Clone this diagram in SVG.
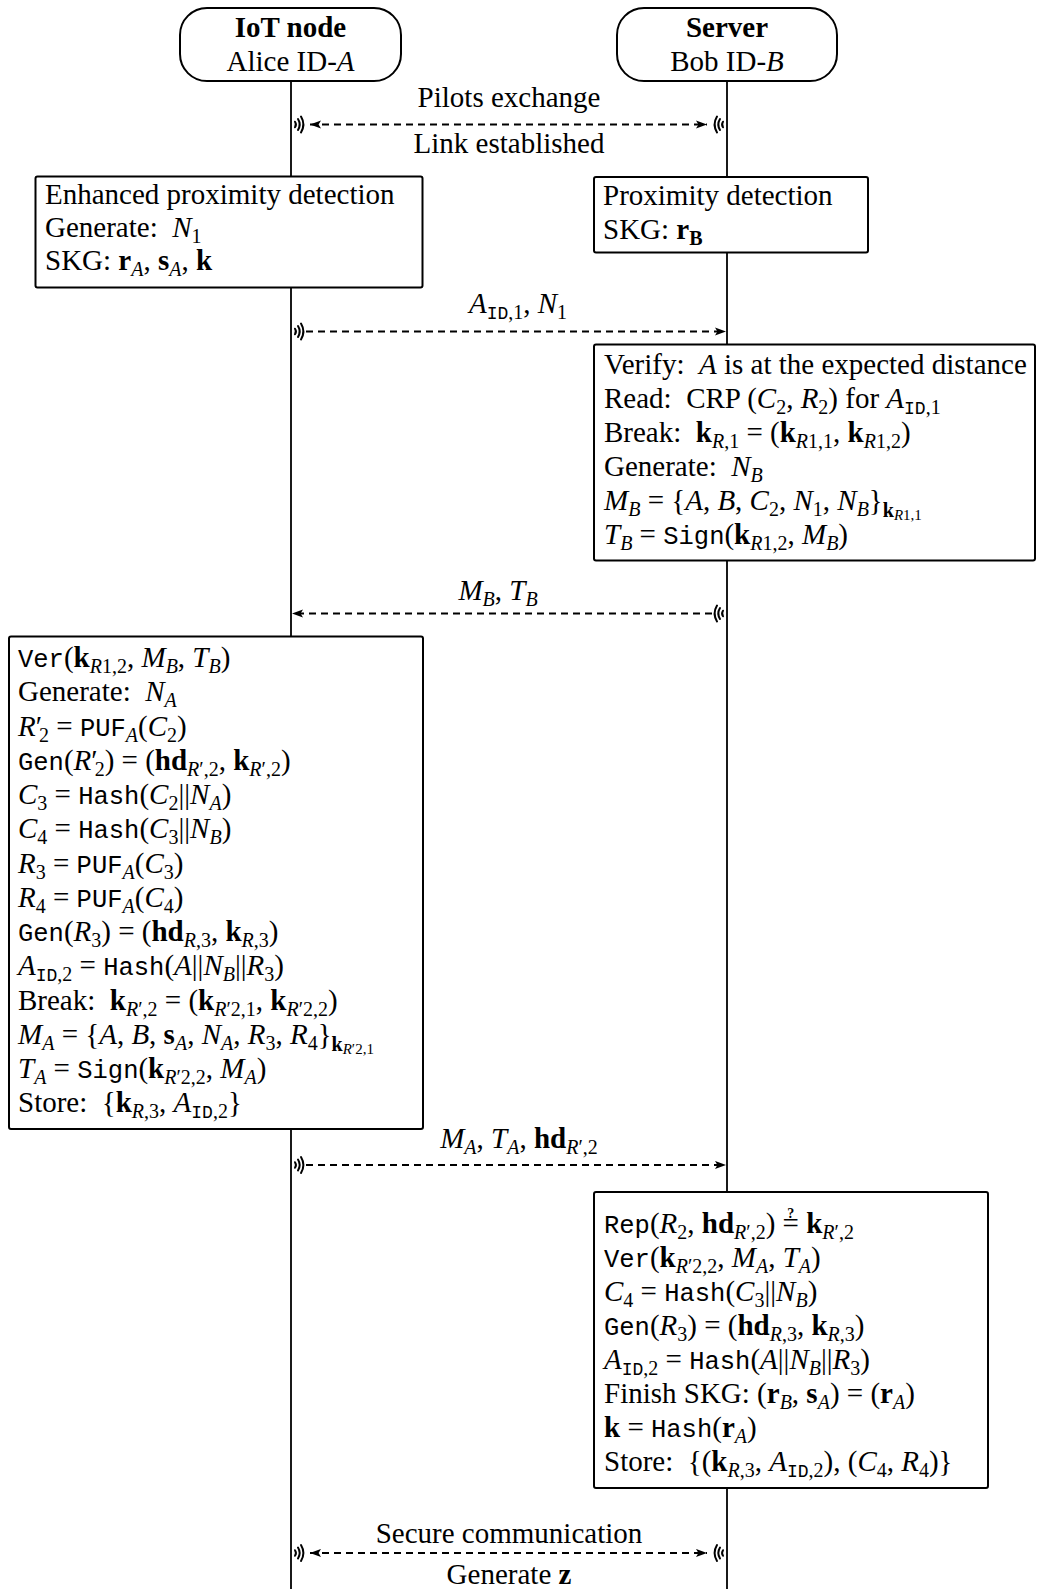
<svg xmlns="http://www.w3.org/2000/svg" width="1038" height="1589" viewBox="0 0 1038 1589" xml:space="preserve">
<style>
.t{font-family:"Liberation Serif","Times New Roman",serif;font-size:29px;fill:#000;white-space:pre}
.c{text-anchor:middle}
.b{font-weight:bold}
.i{font-style:italic}
.m{font-family:"Liberation Mono","Courier New",monospace;font-size:25.5px}
.s{font-size:20px}
.ms{font-family:"Liberation Mono","Courier New",monospace;font-size:18px}
.ss{font-size:15px}
.q{font-size:14px;font-weight:bold}
.life{stroke:#000;stroke-width:1.8;fill:none}
.box{fill:#fff;stroke:#000;stroke-width:2}
.msg{stroke:#000;stroke-width:1.8;stroke-dasharray:7 5;fill:none}
.ant{stroke:#000;stroke-width:2;fill:none;stroke-linecap:round}
</style>
<defs>
<marker id="head" viewBox="0 0 10 8" refX="10" refY="4" markerWidth="11" markerHeight="9" markerUnits="userSpaceOnUse" orient="auto-start-reverse">
<path d="M0,0.3 L10,4 L0,7.7 L2.2,4 z" fill="#000"/>
</marker>
<g id="antR">
<path class="ant" d="M4,-2.8 Q5.9,0 4,2.8"/>
<path class="ant" d="M7,-5.5 Q10.4,0 7,5.5"/>
<path class="ant" d="M10,-8 Q14.8,0 10,8"/>
</g>
<g id="antL" transform="scale(-1,1)">
<use href="#antR"/>
</g>
</defs>
<rect width="1038" height="1589" fill="#fff"/>

<!-- lifelines -->
<g id="lifelines">
<line class="life" x1="291" y1="81" x2="291" y2="1589"/>
<line class="life" x1="727" y1="81" x2="727" y2="1589"/>
</g>

<!-- participants -->
<g id="node-alice">
<rect class="box" x="180" y="8" width="221" height="73" rx="27"/>
<text class="t c b" x="290.5" y="37">IoT node</text>
<text class="t c" x="290.5" y="71">Alice ID-<tspan class="i">A</tspan></text>
</g>
<g id="node-bob">
<rect class="box" x="617" y="8" width="220" height="73" rx="27"/>
<text class="t c b" x="727" y="37">Server</text>
<text class="t c" x="727" y="71">Bob ID-<tspan class="i">B</tspan></text>
</g>

<!-- messages -->
<g id="connectors">
<line class="msg" x1="310" y1="124.5" x2="707" y2="124.5" marker-start="url(#head)" marker-end="url(#head)"/>
<use href="#antR" x="291" y="124.5"/>
<use href="#antL" transform="translate(727,124.5)"/>
<text class="t c" x="509" y="107">Pilots exchange</text>
<text class="t c" x="509" y="153">Link established</text>

<line class="msg" x1="306" y1="331.5" x2="726" y2="331.5" marker-end="url(#head)"/>
<use href="#antR" x="291" y="331.5"/>
<text class="t c" x="518" y="313"><tspan class="i">A</tspan><tspan class="ms" dy="6">ID</tspan><tspan class="s">,1</tspan><tspan dy="-6">, </tspan><tspan class="i">N</tspan><tspan class="s" dy="6">1</tspan></text>

<line class="msg" x1="712" y1="613.5" x2="292" y2="613.5" marker-end="url(#head)"/>
<use href="#antL" transform="translate(727,613.5)"/>
<text class="t c" x="498" y="600"><tspan class="i">M</tspan><tspan class="s i" dy="6">B</tspan><tspan dy="-6">, </tspan><tspan class="i">T</tspan><tspan class="s i" dy="6">B</tspan></text>

<line class="msg" x1="306" y1="1165" x2="726" y2="1165" marker-end="url(#head)"/>
<use href="#antR" x="291" y="1165"/>
<text class="t c" x="519" y="1148"><tspan class="i">M</tspan><tspan class="s i" dy="6">A</tspan><tspan dy="-6">, </tspan><tspan class="i">T</tspan><tspan class="s i" dy="6">A</tspan><tspan dy="-6">, </tspan><tspan class="b">hd</tspan><tspan class="s" dy="6"><tspan class="i">R</tspan>′,2</tspan></text>

<line class="msg" x1="310" y1="1553" x2="707" y2="1553" marker-start="url(#head)" marker-end="url(#head)"/>
<use href="#antR" x="291" y="1553"/>
<use href="#antL" transform="translate(727,1553)"/>
<text class="t c" x="509" y="1543">Secure communication</text>
<text class="t c" x="509" y="1584">Generate <tspan class="b">z</tspan></text>
</g>

<!-- Alice: proximity detection and key generation -->
<g id="alice-skg">
<rect class="box" x="35.5" y="176.5" width="387" height="111" rx="2"/>
<text class="t" x="45" y="204">Enhanced proximity detection</text>
<text class="t" x="45" y="237">Generate:  <tspan class="i">N</tspan><tspan class="s" dy="6">1</tspan></text>
<text class="t" x="45" y="270">SKG: <tspan class="b">r</tspan><tspan class="s i" dy="6">A</tspan><tspan dy="-6">, </tspan><tspan class="b">s</tspan><tspan class="s i" dy="6">A</tspan><tspan dy="-6">, </tspan><tspan class="b">k</tspan></text>
</g>

<!-- Bob: proximity detection -->
<g id="bob-skg">
<rect class="box" x="594" y="177" width="274" height="75.5" rx="2"/>
<text class="t" x="603" y="205">Proximity detection</text>
<text class="t" x="603" y="239">SKG: <tspan class="b">r</tspan><tspan class="s b" dy="6">B</tspan></text>
</g>

<!-- Bob: verification and challenge -->
<g id="bob-challenge">
<rect class="box" x="594" y="344.5" width="441" height="216" rx="2"/>
<text class="t" x="604" y="374">Verify:  <tspan class="i">A</tspan> is at the expected distance</text>
<text class="t" x="604" y="408">Read:  CRP (<tspan class="i">C</tspan><tspan class="s" dy="6">2</tspan><tspan dy="-6">, </tspan><tspan class="i">R</tspan><tspan class="s" dy="6">2</tspan><tspan dy="-6">) for </tspan><tspan class="i">A</tspan><tspan class="ms" dy="6">ID</tspan><tspan class="s">,1</tspan></text>
<text class="t" x="604" y="442">Break:  <tspan class="b">k</tspan><tspan class="s" dy="6"><tspan class="i">R</tspan>,1</tspan><tspan dy="-6"> = (</tspan><tspan class="b">k</tspan><tspan class="s" dy="6"><tspan class="i">R</tspan>1,1</tspan><tspan dy="-6">, </tspan><tspan class="b">k</tspan><tspan class="s" dy="6"><tspan class="i">R</tspan>1,2</tspan><tspan dy="-6">)</tspan></text>
<text class="t" x="604" y="476">Generate:  <tspan class="i">N</tspan><tspan class="s i" dy="6">B</tspan></text>
<text class="t" x="604" y="510"><tspan class="i">M</tspan><tspan class="s i" dy="6">B</tspan><tspan dy="-6"> = {</tspan><tspan class="i">A</tspan>, <tspan class="i">B</tspan>, <tspan class="i">C</tspan><tspan class="s" dy="6">2</tspan><tspan dy="-6">, </tspan><tspan class="i">N</tspan><tspan class="s" dy="6">1</tspan><tspan dy="-6">, </tspan><tspan class="i">N</tspan><tspan class="s i" dy="6">B</tspan><tspan dy="-6">}</tspan><tspan class="s b" dy="7">k</tspan><tspan class="ss" dy="3"><tspan class="i">R</tspan>1,1</tspan></text>
<text class="t" x="604" y="544"><tspan class="i">T</tspan><tspan class="s i" dy="6">B</tspan><tspan dy="-6"> = </tspan><tspan class="m">Sign</tspan>(<tspan class="b">k</tspan><tspan class="s" dy="6"><tspan class="i">R</tspan>1,2</tspan><tspan dy="-6">, </tspan><tspan class="i">M</tspan><tspan class="s i" dy="6">B</tspan><tspan dy="-6">)</tspan></text>
</g>

<!-- Alice: response and key derivation -->
<g id="alice-response">
<rect class="box" x="9" y="636.5" width="414" height="492.5" rx="2"/>
<text class="t" x="18" y="667"><tspan class="m">Ver</tspan>(<tspan class="b">k</tspan><tspan class="s" dy="6"><tspan class="i">R</tspan>1,2</tspan><tspan dy="-6">, </tspan><tspan class="i">M</tspan><tspan class="s i" dy="6">B</tspan><tspan dy="-6">, </tspan><tspan class="i">T</tspan><tspan class="s i" dy="6">B</tspan><tspan dy="-6">)</tspan></text>
<text class="t" x="18" y="701">Generate:  <tspan class="i">N</tspan><tspan class="s i" dy="6">A</tspan></text>
<text class="t" x="18" y="735.5"><tspan class="i">R</tspan>′<tspan class="s" dx="-3" dy="6">2</tspan><tspan dy="-6"> = </tspan><tspan class="m">PUF</tspan><tspan class="s i" dy="6">A</tspan><tspan dy="-6">(</tspan><tspan class="i">C</tspan><tspan class="s" dy="6">2</tspan><tspan dy="-6">)</tspan></text>
<text class="t" x="18" y="769.5"><tspan class="m">Gen</tspan>(<tspan class="i">R</tspan>′<tspan class="s" dx="-3" dy="6">2</tspan><tspan dy="-6">) = (</tspan><tspan class="b">hd</tspan><tspan class="s" dy="6"><tspan class="i">R</tspan>′,2</tspan><tspan dy="-6">, </tspan><tspan class="b">k</tspan><tspan class="s" dy="6"><tspan class="i">R</tspan>′,2</tspan><tspan dy="-6">)</tspan></text>
<text class="t" x="18" y="804"><tspan class="i">C</tspan><tspan class="s" dy="6">3</tspan><tspan dy="-6"> = </tspan><tspan class="m">Hash</tspan>(<tspan class="i">C</tspan><tspan class="s" dy="6">2</tspan><tspan dy="-6">||</tspan><tspan class="i">N</tspan><tspan class="s i" dy="6">A</tspan><tspan dy="-6">)</tspan></text>
<text class="t" x="18" y="838"><tspan class="i">C</tspan><tspan class="s" dy="6">4</tspan><tspan dy="-6"> = </tspan><tspan class="m">Hash</tspan>(<tspan class="i">C</tspan><tspan class="s" dy="6">3</tspan><tspan dy="-6">||</tspan><tspan class="i">N</tspan><tspan class="s i" dy="6">B</tspan><tspan dy="-6">)</tspan></text>
<text class="t" x="18" y="872.5"><tspan class="i">R</tspan><tspan class="s" dy="6">3</tspan><tspan dy="-6"> = </tspan><tspan class="m">PUF</tspan><tspan class="s i" dy="6">A</tspan><tspan dy="-6">(</tspan><tspan class="i">C</tspan><tspan class="s" dy="6">3</tspan><tspan dy="-6">)</tspan></text>
<text class="t" x="18" y="906.5"><tspan class="i">R</tspan><tspan class="s" dy="6">4</tspan><tspan dy="-6"> = </tspan><tspan class="m">PUF</tspan><tspan class="s i" dy="6">A</tspan><tspan dy="-6">(</tspan><tspan class="i">C</tspan><tspan class="s" dy="6">4</tspan><tspan dy="-6">)</tspan></text>
<text class="t" x="18" y="941"><tspan class="m">Gen</tspan>(<tspan class="i">R</tspan><tspan class="s" dy="6">3</tspan><tspan dy="-6">) = (</tspan><tspan class="b">hd</tspan><tspan class="s" dy="6"><tspan class="i">R</tspan>,3</tspan><tspan dy="-6">, </tspan><tspan class="b">k</tspan><tspan class="s" dy="6"><tspan class="i">R</tspan>,3</tspan><tspan dy="-6">)</tspan></text>
<text class="t" x="18" y="975"><tspan class="i">A</tspan><tspan class="ms" dy="6">ID</tspan><tspan class="s">,2</tspan><tspan dy="-6"> = </tspan><tspan class="m">Hash</tspan>(<tspan class="i">A</tspan>||<tspan class="i">N</tspan><tspan class="s i" dy="6">B</tspan><tspan dy="-6">||</tspan><tspan class="i">R</tspan><tspan class="s" dy="6">3</tspan><tspan dy="-6">)</tspan></text>
<text class="t" x="18" y="1009.5">Break:  <tspan class="b">k</tspan><tspan class="s" dy="6"><tspan class="i">R</tspan>′,2</tspan><tspan dy="-6"> = (</tspan><tspan class="b">k</tspan><tspan class="s" dy="6"><tspan class="i">R</tspan>′2,1</tspan><tspan dy="-6">, </tspan><tspan class="b">k</tspan><tspan class="s" dy="6"><tspan class="i">R</tspan>′2,2</tspan><tspan dy="-6">)</tspan></text>
<text class="t" x="18" y="1043.5"><tspan class="i">M</tspan><tspan class="s i" dy="6">A</tspan><tspan dy="-6"> = {</tspan><tspan class="i">A</tspan>, <tspan class="i">B</tspan>, <tspan class="b">s</tspan><tspan class="s i" dy="6">A</tspan><tspan dy="-6">, </tspan><tspan class="i">N</tspan><tspan class="s i" dy="6">A</tspan><tspan dy="-6">, </tspan><tspan class="i">R</tspan><tspan class="s" dy="6">3</tspan><tspan dy="-6">, </tspan><tspan class="i">R</tspan><tspan class="s" dy="6">4</tspan><tspan dy="-6">}</tspan><tspan class="s b" dy="7">k</tspan><tspan class="ss" dy="3"><tspan class="i">R</tspan>′2,1</tspan></text>
<text class="t" x="18" y="1078"><tspan class="i">T</tspan><tspan class="s i" dy="6">A</tspan><tspan dy="-6"> = </tspan><tspan class="m">Sign</tspan>(<tspan class="b">k</tspan><tspan class="s" dy="6"><tspan class="i">R</tspan>′2,2</tspan><tspan dy="-6">, </tspan><tspan class="i">M</tspan><tspan class="s i" dy="6">A</tspan><tspan dy="-6">)</tspan></text>
<text class="t" x="18" y="1112">Store:  {<tspan class="b">k</tspan><tspan class="s" dy="6"><tspan class="i">R</tspan>,3</tspan><tspan dy="-6">, </tspan><tspan class="i">A</tspan><tspan class="ms" dy="6">ID</tspan><tspan class="s">,2</tspan><tspan dy="-6">}</tspan></text>
</g>

<!-- Bob: reproduction, verification and key agreement -->
<g id="bob-finish">
<rect class="box" x="594" y="1192" width="394" height="296" rx="2"/>
<text class="t" x="604" y="1232.5"><tspan class="m">Rep</tspan>(<tspan class="i">R</tspan><tspan class="s" dy="6">2</tspan><tspan dy="-6">, </tspan><tspan class="b">hd</tspan><tspan class="s" dy="6"><tspan class="i">R</tspan>′,2</tspan><tspan dy="-6">) =</tspan><tspan class="q" dx="-11.7" dy="-15">?</tspan><tspan dx="4.7" dy="15"> </tspan><tspan class="b">k</tspan><tspan class="s" dy="6"><tspan class="i">R</tspan>′,2</tspan></text>
<text class="t" x="604" y="1267"><tspan class="m">Ver</tspan>(<tspan class="b">k</tspan><tspan class="s" dy="6"><tspan class="i">R</tspan>′2,2</tspan><tspan dy="-6">, </tspan><tspan class="i">M</tspan><tspan class="s i" dy="6">A</tspan><tspan dy="-6">, </tspan><tspan class="i">T</tspan><tspan class="s i" dy="6">A</tspan><tspan dy="-6">)</tspan></text>
<text class="t" x="604" y="1301"><tspan class="i">C</tspan><tspan class="s" dy="6">4</tspan><tspan dy="-6"> = </tspan><tspan class="m">Hash</tspan>(<tspan class="i">C</tspan><tspan class="s" dy="6">3</tspan><tspan dy="-6">||</tspan><tspan class="i">N</tspan><tspan class="s i" dy="6">B</tspan><tspan dy="-6">)</tspan></text>
<text class="t" x="604" y="1335"><tspan class="m">Gen</tspan>(<tspan class="i">R</tspan><tspan class="s" dy="6">3</tspan><tspan dy="-6">) = (</tspan><tspan class="b">hd</tspan><tspan class="s" dy="6"><tspan class="i">R</tspan>,3</tspan><tspan dy="-6">, </tspan><tspan class="b">k</tspan><tspan class="s" dy="6"><tspan class="i">R</tspan>,3</tspan><tspan dy="-6">)</tspan></text>
<text class="t" x="604" y="1369"><tspan class="i">A</tspan><tspan class="ms" dy="6">ID</tspan><tspan class="s">,2</tspan><tspan dy="-6"> = </tspan><tspan class="m">Hash</tspan>(<tspan class="i">A</tspan>||<tspan class="i">N</tspan><tspan class="s i" dy="6">B</tspan><tspan dy="-6">||</tspan><tspan class="i">R</tspan><tspan class="s" dy="6">3</tspan><tspan dy="-6">)</tspan></text>
<text class="t" x="604" y="1403">Finish SKG: (<tspan class="b">r</tspan><tspan class="s i" dy="6">B</tspan><tspan dy="-6">, </tspan><tspan class="b">s</tspan><tspan class="s i" dy="6">A</tspan><tspan dy="-6">) = (</tspan><tspan class="b">r</tspan><tspan class="s i" dy="6">A</tspan><tspan dy="-6">)</tspan></text>
<text class="t" x="604" y="1436.5"><tspan class="b">k</tspan> = <tspan class="m">Hash</tspan>(<tspan class="b">r</tspan><tspan class="s i" dy="6">A</tspan><tspan dy="-6">)</tspan></text>
<text class="t" x="604" y="1470.5">Store:  {(<tspan class="b">k</tspan><tspan class="s" dy="6"><tspan class="i">R</tspan>,3</tspan><tspan dy="-6">, </tspan><tspan class="i">A</tspan><tspan class="ms" dy="6">ID</tspan><tspan class="s">,2</tspan><tspan dy="-6">), (</tspan><tspan class="i">C</tspan><tspan class="s" dy="6">4</tspan><tspan dy="-6">, </tspan><tspan class="i">R</tspan><tspan class="s" dy="6">4</tspan><tspan dy="-6">)}</tspan></text>
</g>
</svg>
